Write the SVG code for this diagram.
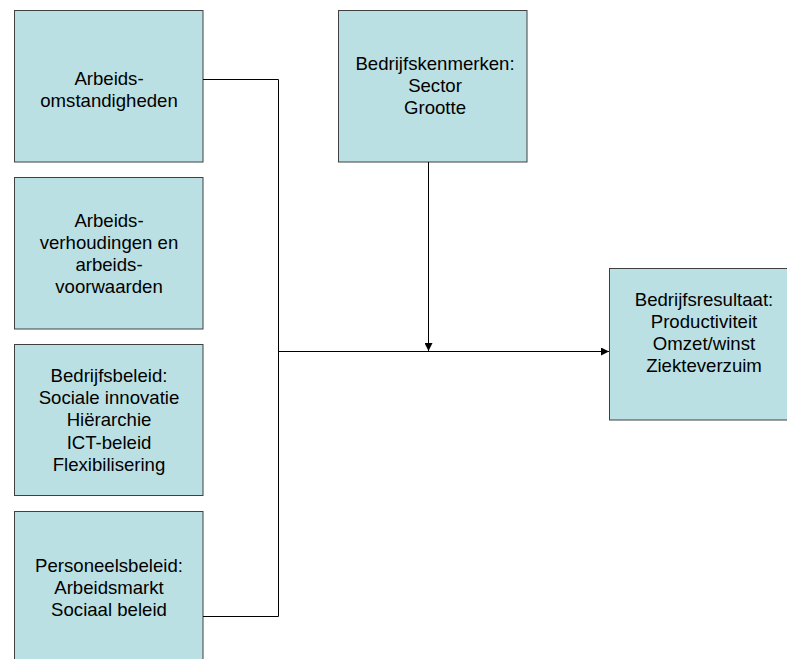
<svg xmlns="http://www.w3.org/2000/svg" width="787" height="659" viewBox="0 0 787 659">
<style>
.box{fill:#BBE0E3;stroke:#404040;stroke-width:1}
.t{font-family:"Liberation Sans",Arial,sans-serif;font-size:18.6px;fill:#000;text-anchor:middle}
.c{fill:none;stroke:#000;stroke-width:1}
</style>
<defs>
<marker id="ah" markerWidth="8" markerHeight="8" refX="8" refY="4" orient="auto" markerUnits="userSpaceOnUse">
<path d="M0,0 L8,4 L0,8 Z" fill="#000"/>
</marker>
</defs>
<rect width="787" height="659" fill="#fff"/>
<g id="n1">
<rect class="box" x="14.5" y="10.5" width="188.5" height="151.5"/>
<text class="t" x="109" y="85">Arbeids-</text>
<text class="t" x="109" y="107">omstandigheden</text>
</g>
<g id="n2">
<rect class="box" x="14.5" y="177.5" width="188.5" height="151.5"/>
<text class="t" x="109" y="227">Arbeids-</text>
<text class="t" x="109" y="249">verhoudingen en</text>
<text class="t" x="109" y="271">arbeids-</text>
<text class="t" x="109" y="293">voorwaarden</text>
</g>
<g id="n3">
<rect class="box" x="14.5" y="344.5" width="188.5" height="151"/>
<text class="t" x="109" y="382">Bedrijfsbeleid:</text>
<text class="t" x="109" y="404">Sociale innovatie</text>
<text class="t" x="109" y="426">Hiërarchie</text>
<text class="t" x="109" y="449">ICT-beleid</text>
<text class="t" x="109" y="471">Flexibilisering</text>
</g>
<g id="n4">
<rect class="box" x="14.5" y="511.5" width="188.5" height="160"/>
<text class="t" x="109" y="572">Personeelsbeleid:</text>
<text class="t" x="109" y="594">Arbeidsmarkt</text>
<text class="t" x="109" y="616">Sociaal beleid</text>
</g>
<g id="n5">
<rect class="box" x="338.5" y="10.5" width="188.5" height="151.5"/>
<text class="t" x="435" y="70">Bedrijfskenmerken:</text>
<text class="t" x="435" y="92">Sector</text>
<text class="t" x="435" y="114">Grootte</text>
</g>
<g id="n6">
<rect class="box" x="609.5" y="268.5" width="189" height="151.5"/>
<text class="t" x="704" y="306">Bedrijfsresultaat:</text>
<text class="t" x="704" y="328">Productiviteit</text>
<text class="t" x="704" y="350">Omzet/winst</text>
<text class="t" x="704" y="372">Ziekteverzuim</text>
</g>
<g id="connectors">
<path class="c" stroke="#333" d="M203,79.5 H278.5 V616.5 H203"/>
<path class="c" d="M278.5,351.5 H609" marker-end="url(#ah)"/>
<path class="c" stroke="#333" stroke-width="1.5" d="M428.5,162 V351" marker-end="url(#ah)"/>
</g>
</svg>
